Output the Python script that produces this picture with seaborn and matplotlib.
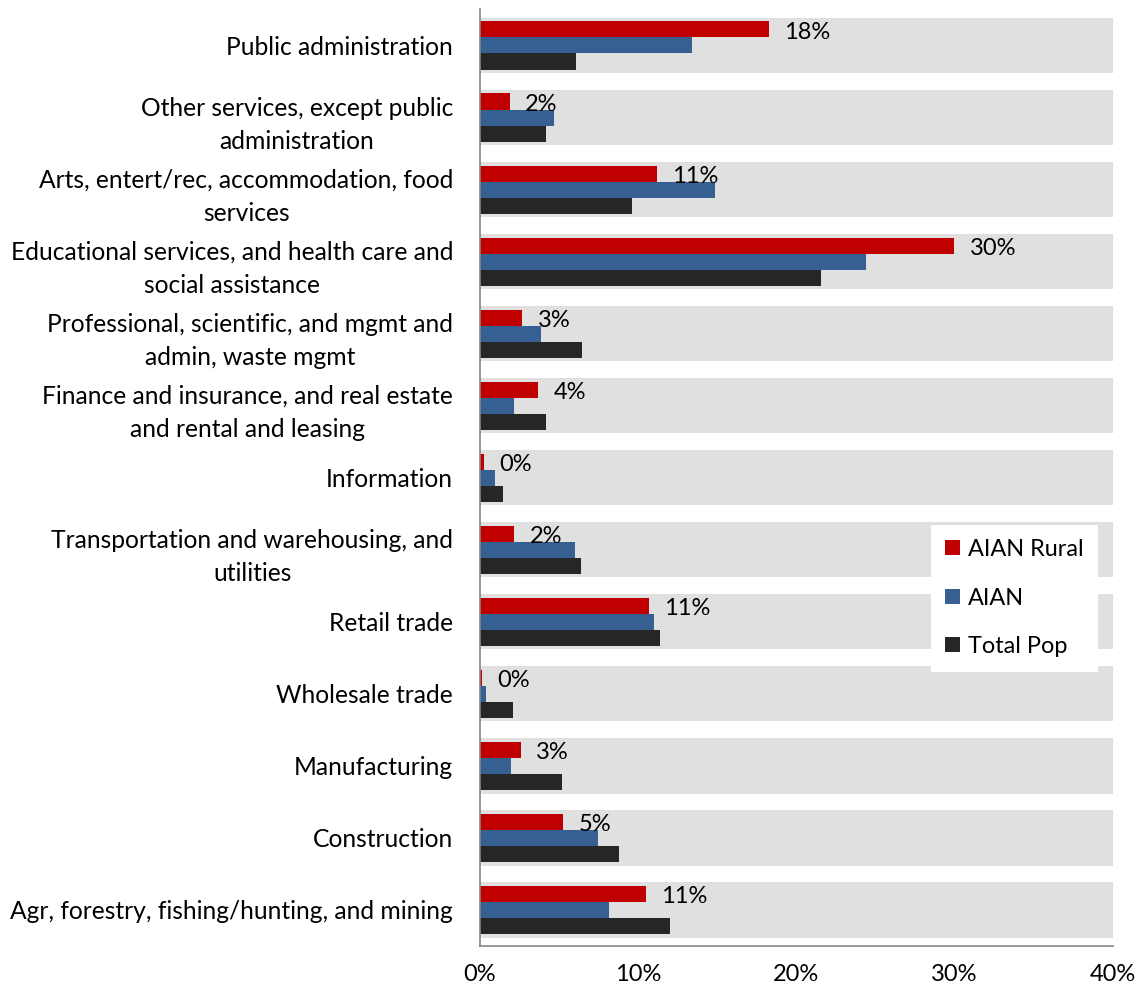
import matplotlib
matplotlib.use("Agg")
import matplotlib.pyplot as plt
import seaborn as sns
import pandas as pd
import numpy as np
from matplotlib.ticker import FixedLocator

categories = [
    "Public administration",
    "Other services, except public\nadministration",
    "Arts, entert/rec, accommodation, food\nservices",
    "Educational services, and health care and\nsocial assistance",
    "Professional, scientific, and mgmt and\nadmin, waste mgmt",
    "Finance and insurance, and real estate\nand rental and leasing",
    "Information",
    "Transportation and warehousing, and\nutilities",
    "Retail trade",
    "Wholesale trade",
    "Manufacturing",
    "Construction",
    "Agr, forestry, fishing/hunting, and mining",
]
series_names = ["AIAN Rural", "AIAN", "Total Pop"]
aian_rural = [18.3, 1.9, 11.2, 30.0, 2.7, 3.7, 0.3, 2.2, 10.7, 0.15, 2.6, 5.3, 10.5]
aian = [13.4, 4.7, 14.9, 24.4, 3.9, 2.2, 1.0, 6.0, 11.0, 0.4, 2.0, 7.5, 8.2]
total_pop = [6.1, 4.2, 9.6, 21.6, 6.5, 4.2, 1.5, 6.4, 11.4, 2.1, 5.2, 8.8, 12.0]
rural_labels = ["18%", "2%", "11%", "30%", "3%", "4%", "0%", "2%", "11%", "0%", "3%", "5%", "11%"]
band_max = [40] * len(categories)
x_ticks = [0, 10, 20, 30, 40]
x_tick_labels = ["0%", "10%", "20%", "30%", "40%"]

colors = ["#C00000", "#376092", "#262626"]
band_color = "#E0E0E0"
axis_gray = "#868686"

df = pd.DataFrame({
    "category": categories * 3,
    "value": aian_rural + aian + total_pop,
    "series": [s for s in series_names for _ in categories],
})
band_df = pd.DataFrame({"category": categories, "value": band_max})

sns.set_style("white")
plt.rcParams["font.family"] = ["Lato", "DejaVu Sans"]
plt.rcParams["text.color"] = "black"
plt.rcParams["xtick.labelcolor"] = "black"
plt.rcParams["ytick.labelcolor"] = "black"

fig = plt.figure(figsize=(11.39, 9.96), dpi=100)
ax = fig.add_axes([0.4211, 0.0502, 0.5557, 0.9403])

sns.barplot(data=band_df, x="value", y="category", order=categories, orient="h",
            color=band_color, saturation=1, width=0.767, errorbar=None,
            linewidth=0, ax=ax)
sns.barplot(data=df, x="value", y="category", hue="series", order=categories,
            hue_order=series_names, orient="h", palette=colors, saturation=1,
            width=0.667, errorbar=None, linewidth=0, ax=ax)

fs_cat = 17.7
fs = 17
anns = ax.bar_label(ax.containers[1], labels=rural_labels, padding=11, fontsize=fs, color="black")
for a in anns:
    a.xyann = (11, -2)

ax.set_xlim(0, 40)
ax.set_ylim(len(categories) - 0.5, -0.5)
ax.set_xticks(x_ticks)
ax.set_xticklabels(x_tick_labels, fontsize=fs)
ax.set_xlabel("")
ax.set_ylabel("")
for lab in ax.get_yticklabels():
    lab.set_multialignment("center")
    lab.set_fontsize(fs_cat)
    lab.set_linespacing(1.55)
ax.tick_params(axis="y", which="major", length=0, pad=19)
ax.yaxis.set_minor_locator(FixedLocator(np.arange(-0.5, len(categories), 1.0)))
ax.tick_params(axis="y", which="minor", direction="inout", length=11.5, width=1.2, color=axis_gray)
ax.tick_params(axis="x", which="major", direction="out", length=5, width=1.2, color=axis_gray, pad=8)

for side in ["top", "right"]:
    ax.spines[side].set_visible(False)
for side in ["left", "bottom"]:
    ax.spines[side].set_color(axis_gray)
    ax.spines[side].set_linewidth(1.2)

handles, labels = ax.get_legend_handles_labels()
leg = ax.legend(handles, labels, loc="upper left", bbox_to_anchor=(0.713, 0.450),
                borderaxespad=0, frameon=True, fancybox=False, framealpha=1,
                facecolor="white", edgecolor="none", fontsize=16.9,
                handlelength=0.62, handleheight=0.62, handletextpad=0.35,
                labelspacing=1.17, borderpad=0.62)

fig.savefig("out.png", dpi=100)
